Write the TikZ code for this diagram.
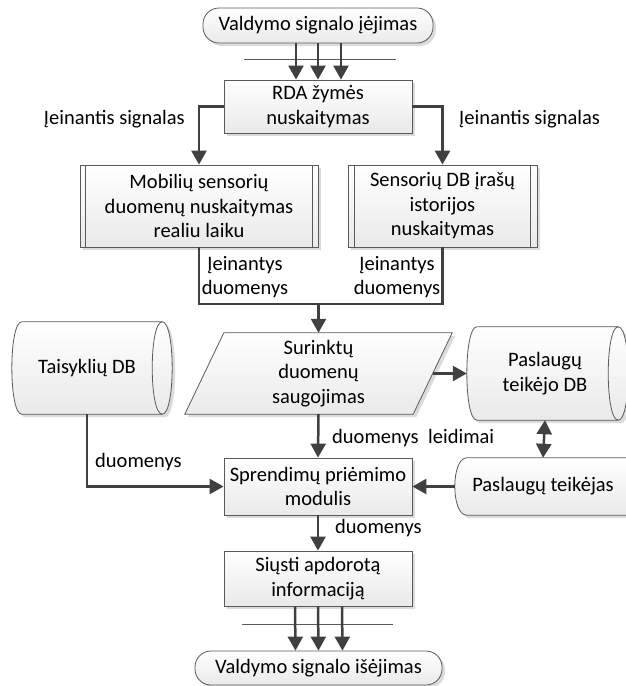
\documentclass[tikz,border=0pt]{standalone}
\usepackage{fontspec}
\setmainfont{Carlito}
\usetikzlibrary{arrows.meta,shadows,backgrounds}

\definecolor{arrowgray}{HTML}{404040}
\definecolor{edgegray}{HTML}{5A5A5A}

\tikzset{
  every node/.style={font=\fontsize{20.5}{24.5}\selectfont, text=black, inner sep=0pt, align=center},
  shadowed/.style={drop shadow={shadow xshift=3pt, shadow yshift=-3pt, fill=gray!28, opacity=1}},
  filled/.style={top color=white, bottom color=gray!17},
  thinline/.style={draw=edgegray, line width=0.8pt},
  box/.style={rectangle, thinline, filled, shadowed},
  term/.style={box, rounded corners=16pt},
  shapefill/.style={thinline, filled, shadowed},
  flow/.style={draw=arrowgray, line width=2.5pt, -{Triangle[length=14pt,width=15pt]}},
  twoway/.style={draw=arrowgray, line width=2.5pt, {Triangle[length=14pt,width=15pt]}-{Triangle[length=14pt,width=15pt]}},
  link/.style={draw=arrowgray, line width=2.5pt},
  bar/.style={draw=edgegray, line width=0.8pt}
}

\begin{document}
\begin{tikzpicture}[x=1pt, y=-1pt]
\useasboundingbox (0,0) rectangle (626,686);

% ---- main column
\node[term, minimum width=230pt, minimum height=35pt] (in) at (318,25.5) {Valdymo signalo įėjimas};
\node[box, minimum width=188pt, minimum height=53pt] (rda) at (318,106.5) {RDA žymės\\nuskaitymas};
\node[box, minimum width=238pt, minimum height=82pt] (mob) at (199,206) {Mobilių sensorių\\duomenų nuskaitymas\\realiu laiku};
\node[box, minimum width=189pt, minimum height=82pt] (sen) at (442.5,206) {Sensorių DB įrašų\\istorijos\\nuskaitymas};
\node[minimum width=228pt, minimum height=81pt] (sur) at (318.5,373.5) {Surinktų\\duomenų\\saugojimas};
\node[box, minimum width=188pt, minimum height=57pt] (spr) at (318,486.5) {Sprendimų priėmimo\\modulis};
\node[box, minimum width=188pt, minimum height=55pt] (sms) at (318,578.5) {Siųsti apdorotą\\informaciją};
\node[term, minimum width=247pt, minimum height=34pt] (out) at (318.5,668) {Valdymo signalo išėjimas};

% ---- side stores
\node[minimum width=130pt, minimum height=92pt] (tdb) at (87,368) {Taisyklių DB};
\node[minimum width=136pt, minimum height=93pt] (pdb) at (545,373.5) {Paslaugų\\teikėjo DB};
\node[minimum width=152pt, minimum height=57pt] (pt) at (543,486.5) {Paslaugų teikėjas};

% ---- outlines drawn behind the texts
\begin{scope}[on background layer]
  % data input parallelogram
  \path[shapefill] ([xshift=19.5pt]sur.north west) -- ([xshift=19.5pt]sur.north east)
    -- ([xshift=-19.5pt]sur.south east) -- ([xshift=-19.5pt]sur.south west) -- cycle;
  % rule base cylinder
  \path[shapefill] (tdb.north west) -- ([xshift=10pt]tdb.north east)
    .. controls +(13.3,0) and +(13.3,0) .. ([xshift=10pt]tdb.south east)
    -- (tdb.south west) .. controls +(-13.3,0) and +(-13.3,0) .. (tdb.north west) -- cycle;
  \draw[thinline] ([xshift=10pt]tdb.north east) .. controls +(-13.3,0) and +(-13.3,0) .. ([xshift=10pt]tdb.south east);
  % provider database cylinder
  \path[shapefill] (pdb.north west) -- ([xshift=5pt]pdb.north east)
    .. controls +(13.3,0) and +(13.3,0) .. ([xshift=5pt]pdb.south east)
    -- (pdb.south west) .. controls +(-13.3,0) and +(-13.3,0) .. (pdb.north west) -- cycle;
  \draw[thinline] ([xshift=5pt]pdb.north east) .. controls +(-13.3,0) and +(-13.3,0) .. ([xshift=5pt]pdb.south east);
  % service provider store
  \path[shapefill] (pt.north west) -- ([xshift=20pt]pt.north east)
    .. controls +(16,0) and +(16,0) .. ([xshift=20pt]pt.south east)
    -- (pt.south west) .. controls +(-16,0) and +(-16,0) .. (pt.north west) -- cycle;
\end{scope}

% predefined-process side bars
\draw[thinline] ([xshift=6pt]mob.north west) -- ([xshift=6pt]mob.south west);
\draw[thinline] ([xshift=-6pt]mob.north east) -- ([xshift=-6pt]mob.south east);
\draw[thinline] ([xshift=7pt]sen.north west) -- ([xshift=7pt]sen.south west);
\draw[thinline] ([xshift=-7pt]sen.north east) -- ([xshift=-7pt]sen.south east);

% ---- signal bars
\coordinate (barInL) at (244,59);
\coordinate (barInR) at (396,59);
\coordinate (barOutL) at (242,624);
\coordinate (barOutR) at (393,624);
\draw[bar] (barInL) -- (barInR);
\draw[bar] (barOutL) -- (barOutR);

% ---- connectors
\draw[flow] ([xshift=-22pt]in.south) -- ([xshift=-22pt]rda.north);
\draw[flow] (in.south) -- (rda.north);
\draw[flow] ([xshift=23pt]in.south) -- ([xshift=23pt]rda.north);

\draw[flow] (rda.west) -| (mob.north);
\draw[flow] (rda.east) -| (sen.north);

\coordinate (mrg) at (318.5,304);
\draw[link] (mob.south) |- (mrg) -| (sen.south);
\draw[flow] (mrg) -- (sur.north);

\draw[flow] (sur.east) -- ([xshift=-10pt]pdb.west);
\draw[twoway] (pdb.south) -- (pt.north);
\draw[flow] (sur.south) -- (spr.north);
\draw[flow] (tdb.south) |- (spr.west);
\draw[flow] ([xshift=-12pt]pt.west) -- (spr.east);
\draw[flow] (spr.south) -- (sms.north);

\draw[flow] ([xshift=-23pt]sms.south) -- ([xshift=-23pt]out.north);
\draw[flow] (sms.south) -- (out.north);
\draw[flow] ([xshift=24pt]sms.south) -- ([xshift=24pt]out.north);

% ---- connector labels
\node[anchor=base east] (lblSigL) at (185,124) {Įeinantis signalas};
\node[anchor=base west] (lblSigR) at (459,124) {Įeinantis signalas};
\node (lblDatL) at (245,277) {Įeinantys\\duomenys};
\node (lblDatR) at (397,277) {Įeinantys\\duomenys};
\node[anchor=base west] (lblRules) at (95,467) {duomenys};
\node[anchor=base west] (lblStore) at (332,443) {duomenys};
\node[anchor=base west] (lblPerm) at (428,443) {leidimai};
\node[anchor=base west] (lblOut) at (335,533) {duomenys};
\end{tikzpicture}
\end{document}
